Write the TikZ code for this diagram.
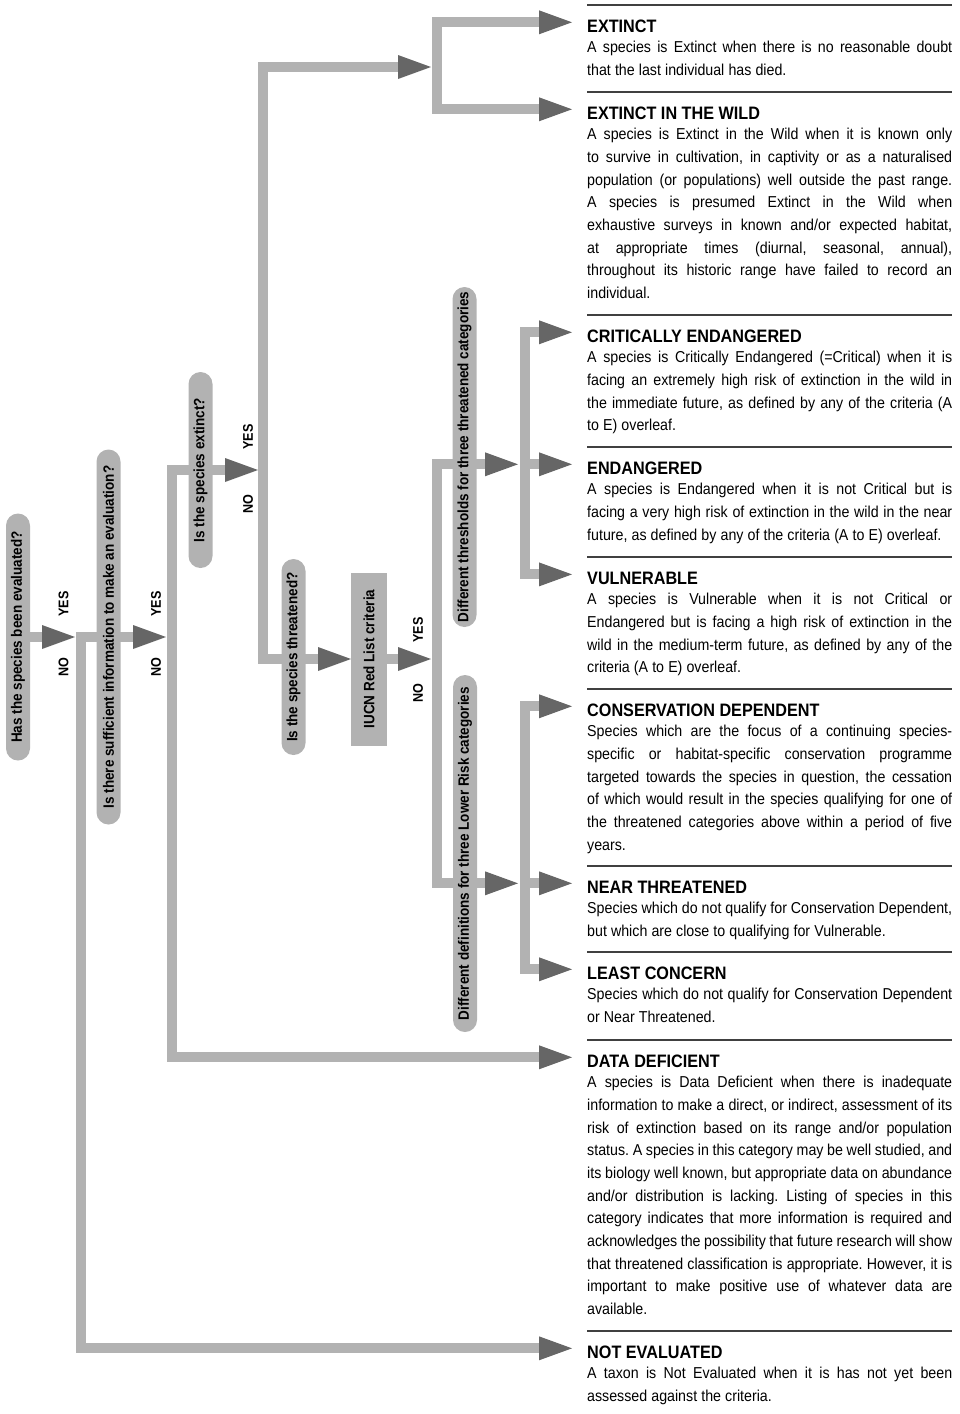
\documentclass[tikz,border=0pt]{standalone}
\usepackage{fontspec}
\setmainfont{Liberation Sans}[FakeStretch=0.9]
\usetikzlibrary{arrows.meta,backgrounds}

\definecolor{flowgray}{HTML}{B2B2B2}
\definecolor{tipgray}{HTML}{666666}
\definecolor{rulegray}{HTML}{404040}
\hyphenpenalty=10000
\exhyphenpenalty=10000
\tolerance=10000
\frenchspacing

\newcommand\bodyfont{\fontsize{15.8}{22.7}\selectfont\spaceskip=0.26em plus 0.4em minus 0.1em}
\newcommand\titlefont{\fontsize{18}{20}\selectfont\bfseries}
\newcommand\pillfont{\fontsize{15}{17}\selectfont\bfseries}
\newcommand\answerfont{\fontsize{14}{16}\selectfont\bfseries}

\begin{document}
\begin{tikzpicture}[x=1pt,y=-1pt,
	flow/.style={draw=flowgray,line width=10pt},
	flowarrow/.style={flow,-{Triangle[length=33pt,width=24pt,line width=0pt,color=tipgray]}},
	pill/.style={fill=flowgray,rounded corners=12pt,rotate=90,minimum height=24pt,inner sep=0pt,font=\pillfont},
	critbox/.style={fill=flowgray,rotate=90,minimum height=36pt,minimum width=173pt,inner sep=0pt,font=\pillfont},
	answer/.style={rotate=90,inner sep=0pt,font=\answerfont},
	cattitle/.style={anchor=base west,inner sep=0pt,font=\titlefont},
	catbody/.style={anchor=north west,inner sep=0pt,text width=365pt,align=justify,font=\bodyfont},
	sepline/.style={draw=rulegray,line width=1.5pt}]
\useasboundingbox (0,0) rectangle (959,1414);

\foreach \sy in {5,92,315,447,557,689,866,952,1040,1331}
	\draw[sepline] (587,\sy) -- (952,\sy);

\node[cattitle] (tEX) at (587,32) {EXTINCT};
\node[catbody] (bEX) at (587,41) {A species is Extinct when there is no reasonable doubt\linebreak that the last individual has died.};
\node[cattitle] (tEW) at (587,119) {EXTINCT IN THE WILD};
\node[catbody] (bEW) at (587,128) {A species is Extinct in the Wild when it is known only\linebreak to survive in cultivation, in captivity or as a naturalised\linebreak population (or populations) well outside the past range.\linebreak A species is presumed Extinct in the Wild when\linebreak exhaustive surveys in known and/or expected habitat,\linebreak at appropriate times (diurnal, seasonal, annual),\linebreak throughout its historic range have failed to record an\linebreak individual.};
\node[cattitle] (tCE) at (587,342) {CRITICALLY ENDANGERED};
\node[catbody] (bCE) at (587,351) {A species is Critically Endangered (=Critical) when it is\linebreak facing an extremely high risk of extinction in the wild in\linebreak the immediate future, as defined by any of the criteria (A\linebreak to E) overleaf.};
\node[cattitle] (tEN) at (587,474) {ENDANGERED};
\node[catbody] (bEN) at (587,483) {A species is Endangered when it is not Critical but is\linebreak facing a very high risk of extinction in the wild in the near\linebreak future, as defined by any of the criteria (A to E) overleaf.};
\node[cattitle] (tVU) at (587,584) {VULNERABLE};
\node[catbody] (bVU) at (587,593) {A species is Vulnerable when it is not Critical or\linebreak Endangered but is facing a high risk of extinction in the\linebreak wild in the medium-term future, as defined by any of the\linebreak criteria (A to E) overleaf.};
\node[cattitle] (tCD) at (587,716) {CONSERVATION DEPENDENT};
\node[catbody] (bCD) at (587,725) {Species which are the focus of a continuing species-\linebreak specific or habitat-specific conservation programme\linebreak targeted towards the species in question, the cessation\linebreak of which would result in the species qualifying for one of\linebreak the threatened categories above within a period of five\linebreak years.};
\node[cattitle] (tNT) at (587,893) {NEAR THREATENED};
\node[catbody] (bNT) at (587,902) {Species which do not qualify for Conservation Dependent,\linebreak but which are close to qualifying for Vulnerable.};
\node[cattitle] (tLC) at (587,979) {LEAST CONCERN};
\node[catbody] (bLC) at (587,988) {Species which do not qualify for Conservation Dependent\linebreak or Near Threatened.};
\node[cattitle] (tDD) at (587,1067) {DATA DEFICIENT};
\node[catbody] (bDD) at (587,1076) {A species is Data Deficient when there is inadequate\linebreak information to make a direct, or indirect, assessment of its\linebreak risk of extinction based on its range and/or population\linebreak status. A species in this category may be well studied, and\linebreak its biology well known, but appropriate data on abundance\linebreak and/or distribution is lacking. Listing of species in this\linebreak category indicates that more information is required and\linebreak acknowledges the possibility that future research will show\linebreak that threatened classification is appropriate. However, it is\linebreak important to make positive use of whatever data are\linebreak available.};
\node[cattitle] (tNE) at (587,1358) {NOT EVALUATED};
\node[catbody] (bNE) at (587,1367) {A taxon is Not Evaluated when it is has not yet been\linebreak assessed against the criteria.};

\foreach \c in {EX,EW,CE,EN,VU,CD,NT,LC,DD,NE}
	\coordinate (a\c) at ([xshift=-15pt,yshift=3.5pt]t\c.west);

% questions
\node[pill,minimum width=247pt] (p1) at (18,637) {Has the species been evaluated?};
\node[pill,minimum width=375pt] (p2) at (108.5,637) {Is there sufficient information to make an evaluation?};
\node[pill,minimum width=196pt] (p3) at (200.5,470) {Is the species extinct?};
\node[pill,minimum width=196pt] (p4) at (293.5,657) {Is the species threatened?};
\node[critbox] (crit) at (369,659) {IUCN Red List criteria};
\node[pill,minimum width=340pt] (p5) at (464.5,457) {Different thresholds for three threatened categories};
\node[pill,minimum width=357pt] (p6) at (465,853.5) {Different definitions for three Lower Risk categories};

% junctions
\coordinate (jA) at (81,0 |- aNE);
\coordinate (jB) at (172,0 |- aDD);
\coordinate (jC) at (263,659);
\coordinate (jD) at (437,67);
\coordinate (jE) at (437,659);
\coordinate (jF) at (525,0 |- aEN);
\coordinate (jG) at (525,0 |- aNT);

\begin{pgfonlayer}{background}
\draw[flowarrow] (p2.center) -| (jA) -- (aNE);
\draw[flowarrow] (p3.center) -| (jB) -- (aDD);
\draw[flowarrow] (p4.center |- jC) -- (jC) |- ([xshift=-6pt]jD);
\draw[flowarrow] (jD) |- (aEX);
\draw[flowarrow] (jD) |- (aEW);
\draw[flow] (p5.center |- jF) -| (jE) |- (p6.center |- jG);
\draw[flowarrow] (jF) |- (aCE);
\draw[flowarrow] (jF) -- (aEN);
\draw[flowarrow] (jF) |- (aVU);
\draw[flowarrow] (jG) |- (aCD);
\draw[flowarrow] (jG) -- (aNT);
\draw[flowarrow] (jG) |- (aLC);

\draw[flowarrow] (p1.center) -- ([xshift=-6pt]p1.center -| jA);
\draw[flowarrow] (p2.center) -- ([xshift=-6pt]p2.center -| jB);
\draw[flowarrow] (p3.center) -- ([xshift=-5pt]p3.center -| jC);
\draw[flowarrow] (p4.center |- jC) -- ([xshift=-18pt]crit.center |- jC);
\draw[flowarrow] (crit.center |- jE) -- ([xshift=-6pt]jE);
\draw[flowarrow] (p5.center |- jF) -- ([xshift=-7pt]jF);
\draw[flowarrow] (p6.center |- jG) -- ([xshift=-7pt]jG);
\end{pgfonlayer}

\node[answer] (y1) at (63.5,604) {YES};
\node[answer] (n1) at (63.5,667) {NO};
\node[answer] (y2) at (156,604) {YES};
\node[answer] (n2) at (156,667) {NO};
\node[answer] (y3) at (248,437) {YES};
\node[answer] (n3) at (248,504) {NO};
\node[answer] (y4) at (418,630) {YES};
\node[answer] (n4) at (418,693) {NO};
\end{tikzpicture}
\end{document}
